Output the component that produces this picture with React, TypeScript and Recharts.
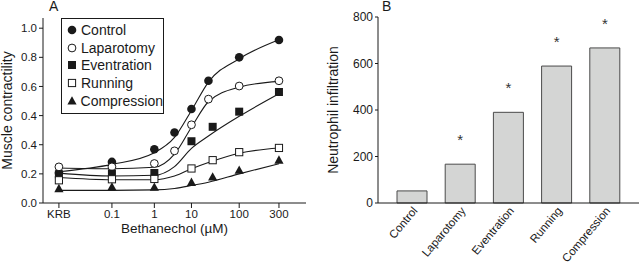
import {
	ComposedChart,
	BarChart,
	Bar,
	Line,
	Scatter,
	XAxis,
	YAxis,
	LabelList,
} from "recharts";

// panel A: bethanechol dose response
const doseLabels = ["KRB", "0.1", "1", "10", "100", "300"];
const doseTicks = [0, 1, 1.8, 2.5, 3.4, 4.15];
const yTicks = [0, 0.2, 0.4, 0.6, 0.8, 1.0, 1.2];
const yTickLabels = ["0.0", "0.2", "0.4", "0.4", "0.6", "0.8", "1.0"];

const xEarly = [0, 1, 1.8, 2.18, 2.5, 2.82, 3.4, 4.15];
const xLate = [0, 1, 1.8, 2.5, 2.9, 3.4, 4.15];

const controlY = [0.206, 0.282, 0.369, 0.484, 0.645, 0.839, 1.0, 1.119];
const laparotomyY = [0.248, 0.248, 0.271, 0.358, 0.537, 0.713, 0.803, 0.839];
const eventrationY = [0.197, 0.202, 0.206, 0.424, 0.523, 0.627, 0.762];
const runningY = [0.156, 0.163, 0.165, 0.237, 0.294, 0.349, 0.378];
const compressionY = [0.099, 0.11, 0.108, 0.142, 0.179, 0.225, 0.294];

// fitted curves
const curveX = [0, 1, 1.8, 2.18, 2.5, 2.82, 3.4, 4.15];
const controlFit = [0.215, 0.265, 0.345, 0.45, 0.635, 0.83, 0.99, 1.12];
const laparotomyFit = [0.24, 0.235, 0.245, 0.335, 0.52, 0.695, 0.795, 0.835];
const eventrationFit = [0.205, 0.185, 0.19, 0.25, 0.375, 0.46, 0.595, 0.75];
const runningFit = [0.175, 0.16, 0.16, 0.185, 0.235, 0.278, 0.342, 0.378];
const compressionFit = [0.087, 0.087, 0.09, 0.1, 0.12, 0.143, 0.2, 0.27];

// panel B: neutrophils
const groups = ["Control", "Laparotomy", "Eventration", "Running", "Compression"];
const infiltration = [52, 167, 390, 589, 667];
const significance = ["", "*", "*", "*", "*"];

const FONT = '"Liberation Sans", Arial, Helvetica, sans-serif';
const INK = "#1a1a1a";

const toPoints = (xs: number[], ys: number[]) =>
	xs.map((x, i) => ({ x, y: ys[i] }));

type Kind = "dot" | "ring" | "square" | "box" | "triangle";

function Marker({ kind, cx, cy }: { kind: Kind; cx: number; cy: number }) {
	if (kind === "dot") return <circle cx={cx} cy={cy} r={4.3} fill={INK} />;
	if (kind === "ring")
		return <circle cx={cx} cy={cy} r={3.9} fill="#fff" stroke={INK} strokeWidth={1} />;
	if (kind === "square")
		return <rect x={cx - 4} y={cy - 4} width={8} height={8} fill={INK} />;
	if (kind === "box")
		return (
			<rect x={cx - 3.6} y={cy - 3.6} width={7.2} height={7.2} fill="#fff" stroke={INK} strokeWidth={1} />
		);
	return (
		<polygon
			points={`${cx},${cy - 4.8} ${cx + 4.6},${cy + 3.6} ${cx - 4.6},${cy + 3.6}`}
			fill={INK}
		/>
	);
}

const series = [
	{ name: "Control", kind: "dot" as Kind, pts: toPoints(xEarly, controlY), fit: toPoints(curveX, controlFit) },
	{ name: "Laparotomy", kind: "ring" as Kind, pts: toPoints(xEarly, laparotomyY), fit: toPoints(curveX, laparotomyFit) },
	{ name: "Eventration", kind: "square" as Kind, pts: toPoints(xLate, eventrationY), fit: toPoints(curveX, eventrationFit) },
	{ name: "Running", kind: "box" as Kind, pts: toPoints(xLate, runningY), fit: toPoints(curveX, runningFit) },
	{ name: "Compression", kind: "triangle" as Kind, pts: toPoints(xLate, compressionY), fit: toPoints(curveX, compressionFit) },
];

function LegendBox() {
	return (
		<div
			style={{
				position: "absolute",
				left: 61,
				top: 18,
				border: `1px solid ${INK}`,
				background: "#fff",
				width: 103,
				boxSizing: "border-box",
				padding: "2px 0 3px 4px",
				fontFamily: FONT,
				fontSize: 14,
				color: INK,
				whiteSpace: "nowrap",
			}}
		>
			{series.map((s) => (
				<div key={s.name} style={{ display: "flex", alignItems: "center", height: 17.8 }}>
					<svg width={12} height={12} style={{ marginRight: 3 }}>
						<Marker kind={s.kind} cx={6} cy={6} />
					</svg>
					<span>{s.name}</span>
				</div>
			))}
		</div>
	);
}

function RotatedTick(props: any) {
	const { x, y, payload } = props;
	return (
		<g transform={`translate(${x + 6},${y + 8})`}>
			<text
				x={0}
				y={0}
				textAnchor="end"
				transform="rotate(-50)"
				fontSize={11.5}
				fontFamily={FONT}
				fill={INK}
			>
				{payload.value}
			</text>
		</g>
	);
}

const tickStyle = { fontSize: 11.5, fill: INK, fontFamily: FONT };
const titleStyle = { fontSize: 14, fontFamily: FONT, fill: INK };
const panelTag = {
	position: "absolute" as const,
	top: 0,
	fontSize: 14,
	lineHeight: "12px",
	color: INK,
};

export default function App() {
	const barData = groups.map((name, i) => ({
		name,
		value: infiltration[i],
		sig: significance[i],
	}));

	return (
		<div
			style={{
				position: "absolute",
				left: 0,
				top: 0,
				width: 640,
				height: 269,
				background: "#fff",
				fontFamily: FONT,
				overflow: "hidden",
			}}
		>
			<div style={{ position: "absolute", left: 0, top: 0 }}>
				<ComposedChart
					width={320}
					height={269}
					margin={{ top: 18, right: 14, bottom: 36, left: 0 }}
				>
					<XAxis
						type="number"
						dataKey="x"
						domain={[-0.3, 4.66]}
						ticks={doseTicks}
						tickFormatter={(v: number) => doseLabels[doseTicks.indexOf(v)]}
						tick={tickStyle}
						tickSize={5}
						tickMargin={2}
						height={30}
						stroke={INK}
						label={{
							value: "Bethanechol (µM)",
							position: "insideBottom",
							offset: 0,
							style: { ...titleStyle, fontSize: 13.5 },
						}}
					/>
					<YAxis
						type="number"
						dataKey="y"
						domain={[0, 1.27]}
						ticks={yTicks}
						tickFormatter={(v: number) => yTickLabels[yTicks.indexOf(v)]}
						tick={tickStyle}
						tickSize={4}
						tickMargin={2}
						width={43}
						stroke={INK}
						label={{
							value: "Muscle contractility",
							angle: -90,
							position: "insideLeft",
							offset: 7,
							style: { ...titleStyle, textAnchor: "middle" },
						}}
					/>
					{series.map((s) => (
						<Line
							key={`fit-${s.name}`}
							data={s.fit}
							dataKey="y"
							type="monotone"
							stroke={INK}
							strokeWidth={1.1}
							dot={false}
							activeDot={false}
							legendType="none"
							isAnimationActive={false}
						/>
					))}
					{series.map((s) => (
						<Scatter
							key={s.name}
							name={s.name}
							data={s.pts}
							dataKey="y"
							shape={(p: any) => <Marker kind={s.kind} cx={p.cx} cy={p.cy} />}
							isAnimationActive={false}
						/>
					))}
				</ComposedChart>
			</div>
			<LegendBox />

			<div style={{ position: "absolute", left: 320, top: 0 }}>
				<BarChart
					width={320}
					height={269}
					data={barData}
					margin={{ top: 17, right: 1, bottom: 36, left: 0 }}
				>
					<XAxis
						dataKey="name"
						interval={0}
						tick={<RotatedTick />}
						tickLine={false}
						tickSize={0}
						tickMargin={0}
						height={30}
						padding={{ left: 10, right: 10 }}
						stroke={INK}
					/>
					<YAxis
						domain={[0, 800]}
						ticks={[0, 200, 400, 600, 800]}
						tick={{ ...tickStyle, fontSize: 12 }}
						tickSize={3}
						tickMargin={2}
						width={58}
						stroke={INK}
						label={{
							value: "Neutrophil infiltration",
							angle: -90,
							position: "insideLeft",
							offset: 13,
							style: { ...titleStyle, textAnchor: "middle" },
						}}
					/>
					<Bar
						dataKey="value"
						fill="#d4d5d4"
						stroke="#4a4a4a"
						strokeWidth={1}
						barSize={30}
						isAnimationActive={false}
					>
						<LabelList
							dataKey="sig"
							position="top"
							offset={19}
							style={{ fontSize: 15, fill: "#333", fontFamily: FONT }}
						/>
					</Bar>
				</BarChart>
			</div>

			<span style={{ ...panelTag, left: 49 }}>A</span>
			<span style={{ ...panelTag, left: 382 }}>B</span>
		</div>
	);
}
